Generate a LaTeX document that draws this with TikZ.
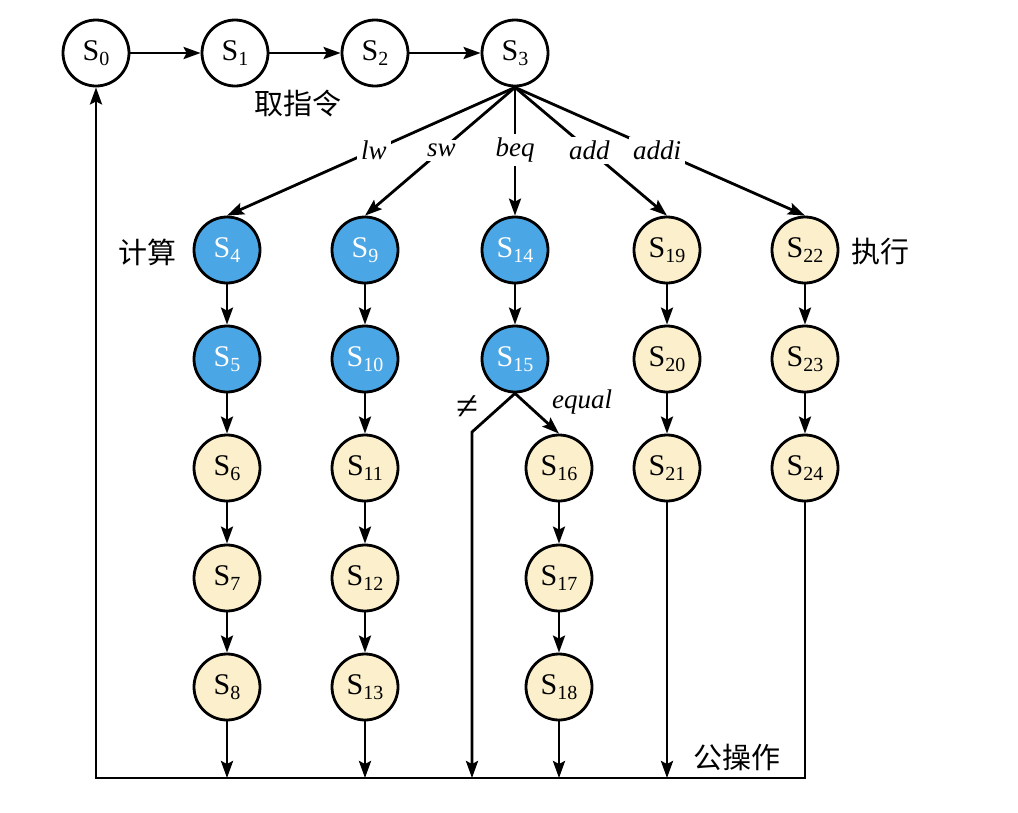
\documentclass[tikz,border=0pt]{standalone}
\usepackage{fontspec}
\setmainfont{Liberation Serif}
\newfontfamily\cjk{Noto Sans CJK SC}
\usetikzlibrary{arrows.meta}
\definecolor{nblue}{HTML}{4AA6E4}
\definecolor{ncream}{HTML}{FCF0CC}
\newcommand\sn[1]{S\raisebox{-5pt}{\fontsize{20}{20}\selectfont #1}}
\begin{document}
\begin{tikzpicture}[x=1pt,y=-1pt, line width=2.8pt,
  st/.style={circle, draw, minimum size=66pt, inner sep=0pt, font=\fontsize{30}{30}\selectfont},
  wst/.style={st, fill=white},
  bst/.style={st, fill=nblue, text=white},
  cst/.style={st, fill=ncream},
  arr/.style={-{Stealth[length=17pt,width=12pt,inset=3pt]}},
  lbl/.style={fill=white, inner sep=4pt, font=\fontsize{27}{27}\selectfont\itshape},
  cn/.style={font=\cjk\fontsize{29}{29}\selectfont}]
\path[use as bounding box] (0,0) rectangle (1018,812);
% top row
\node[wst] (S0) at (96,53) {\sn{0}};
\node[wst] (S1) at (235,53) {\sn{1}};
\node[wst] (S2) at (375,53) {\sn{2}};
\node[wst] (S3) at (515,53) {\sn{3}};
% lw column
\node[bst] (S4) at (227,250) {\sn{4}};
\node[bst] (S5) at (227,359) {\sn{5}};
\node[cst] (S6) at (227,468) {\sn{6}};
\node[cst] (S7) at (227,578) {\sn{7}};
\node[cst] (S8) at (227,687) {\sn{8}};
% sw column
\node[bst] (S9) at (365,250) {\sn{9}};
\node[bst] (S10) at (365,359) {\sn{10}};
\node[cst] (S11) at (365,468) {\sn{11}};
\node[cst] (S12) at (365,578) {\sn{12}};
\node[cst] (S13) at (365,687) {\sn{13}};
% beq column
\node[bst] (S14) at (515,250) {\sn{14}};
\node[bst] (S15) at (515,359) {\sn{15}};
\node[cst] (S16) at (559,468) {\sn{16}};
\node[cst] (S17) at (559,578) {\sn{17}};
\node[cst] (S18) at (559,687) {\sn{18}};
% add column
\node[cst] (S19) at (667,250) {\sn{19}};
\node[cst] (S20) at (667,359) {\sn{20}};
\node[cst] (S21) at (667,468) {\sn{21}};
% addi column
\node[cst] (S22) at (805,250) {\sn{22}};
\node[cst] (S23) at (805,359) {\sn{23}};
\node[cst] (S24) at (805,468) {\sn{24}};
% coordinates
\coordinate (bl) at (96,778);
\coordinate (br) at (805,778);
\coordinate (ne) at (472,432);
% fetch chain
\draw[arr] (S0) -- (S1);
\draw[arr] (S1) -- (S2);
\draw[arr] (S2) -- (S3);
% decode
\draw[arr] (S3.south) -- node[lbl,pos=0.49] (Llw) {lw} (S4.north);
\draw[arr] (S3.south) -- node[lbl,pos=0.49] (Lsw) {sw} (S9.north);
\draw[arr] (S3.south) -- node[lbl,pos=0.49] (Lbeq) {beq} (S14.north);
\draw[arr] (S3.south) -- node[lbl,pos=0.49] (Ladd) {add} (S19.north);
\draw[arr] (S3.south) -- node[lbl,pos=0.49] (Laddi) {addi} (S22.north);
% columns
\draw[arr] (S4) -- (S5);
\draw[arr] (S5) -- (S6);
\draw[arr] (S6) -- (S7);
\draw[arr] (S7) -- (S8);
\draw[arr] (S9) -- (S10);
\draw[arr] (S10) -- (S11);
\draw[arr] (S11) -- (S12);
\draw[arr] (S12) -- (S13);
\draw[arr] (S14) -- (S15);
\draw[arr] (S16) -- (S17);
\draw[arr] (S17) -- (S18);
\draw[arr] (S19) -- (S20);
\draw[arr] (S20) -- (S21);
\draw[arr] (S22) -- (S23);
\draw[arr] (S23) -- (S24);
% beq branch
\draw[arr] (S15.south) -- (S16.north);
\draw[arr] (S15.south) -- (ne) -- (ne |- bl);
\node[font=\fontsize{40}{40}\selectfont] (Lne) at (467,408) {≠};
\node[font=\fontsize{27}{27}\selectfont\itshape] (Leq) at (582,402) {equal};
% to common line
\draw[arr] (S8.south) -- (S8.south |- bl);
\draw[arr] (S13.south) -- (S13.south |- bl);
\draw[arr] (S18.south) -- (S18.south |- bl);
\draw[arr] (S21.south) -- (S21.south |- bl);
\draw[arr] (S24.south) -- (br) -- (bl) -- (S0.south);
% phase labels
\node[cn] (fetch) at (298,103) {取指令};
\node[cn] (calc) at (147,252) {计算};
\node[cn] (exec) at (880,252) {执行};
\node[cn] (comm) at (737,757) {公操作};
\end{tikzpicture}
\end{document}
